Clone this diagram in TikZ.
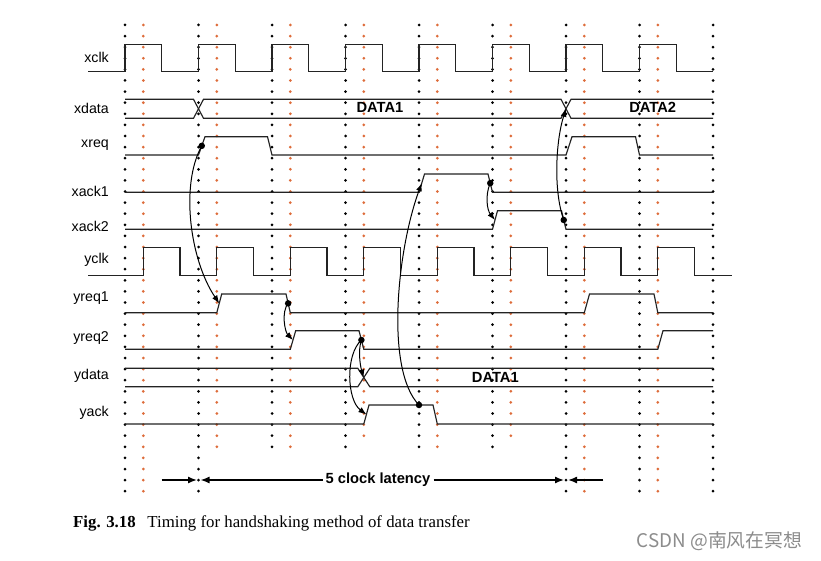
\documentclass[tikz,border=0pt]{standalone}
\usepackage{fontspec}
\setmainfont{Liberation Serif}
\setsansfont{Liberation Sans}
\newfontfamily\cjkfont{Noto Sans CJK SC}
\usetikzlibrary{arrows.meta,calc}
\definecolor{dotorange}{RGB}{222,108,58}
\definecolor{wavec}{RGB}{35,35,35}
\begin{document}
\begin{tikzpicture}[x=1pt,y=-1pt,
  wave/.style={draw=wavec, line width=1.15pt, line join=miter},
  sig/.style={font=\sffamily\fontsize{14.2}{16}\selectfont, anchor=east, inner sep=0pt},
  datalbl/.style={font=\sffamily\bfseries\fontsize{14.7}{16}\selectfont, inner sep=0pt},
  cause/.style={fill=black, circle, inner sep=0pt, minimum size=6.5pt},
  causal/.style={draw=black, line width=1pt, -{Latex[length=8pt,width=6pt]}},
  latarrow/.style={draw=black, line width=1.4pt, -{Latex[length=9pt,width=7pt]}},
  ]
\fill[white] (0,0) rectangle (821,561);
\useasboundingbox (0,0) rectangle (821,561);

% dotted grid columns
\foreach \x/\n in {125/42,198.5/42,272/38,345.5/38,419/38,492.5/38,566/42,639.5/42,713/42}
  \foreach \i in {0,...,\n}
    \fill[black] (\x,{25+11.1*\i}) circle (1.5pt);
\foreach \x/\n in {143.3/42,216.8/38,290.3/38,363.8/37,437.3/38,510.8/37,584.3/42,657.8/42}
  \foreach \i in {0,...,\n}
    \fill[dotorange] (\x,{25+11.1*\i}) circle (1.5pt);

% signal names
\node[sig] (lxclk)  at (109,57)    {xclk};
\node[sig] (lxdata) at (109,108)   {xdata};
\node[sig] (lxreq)  at (109,145.5) {xreq};
\node[sig] (lxack1) at (109,191)   {xack1};
\node[sig] (lxack2) at (109,226.5) {xack2};
\node[sig] (lyclk)  at (109,259.5) {yclk};
\node[sig] (lyreq1) at (109,298.5) {yreq1};
\node[sig] (lyreq2) at (109,338)   {yreq2};
\node[sig] (lydata) at (109,376)   {ydata};
\node[sig] (lyack)  at (109,412.5) {yack};

% xclk
\draw[wave] (88,71.7) \foreach \k in {0,...,7} {
  -- ({125+73.5*\k},71.7) -- ({125+73.5*\k},44.3)
  -- ({161.75+73.5*\k},44.3) -- ({161.75+73.5*\k},71.7) } -- (713,71.7);
% xdata
\draw[wave] (125,99.3) -- (193.5,99.3) -- (203.5,118.3) -- (561,118.3) -- (571,99.3) -- (713,99.3);
\draw[wave] (125,118.3) -- (193.5,118.3) -- (203.5,99.3) -- (561,99.3) -- (571,118.3) -- (713,118.3);
\node[datalbl] (xd1) at (380,107.5) {DATA1};
\node[datalbl] (xd2) at (652.7,107.5) {DATA2};
% xreq
\draw[wave] (125,155) -- (198.5,155) -- (205,136.7) -- (267.5,136.7) -- (272,155)
  -- (566,155) -- (572,136.7) -- (635.5,136.7) -- (639.5,155) -- (713,155);
% xack1
\draw[wave] (125,192.3) -- (419,192.3) -- (424.5,174) -- (488,174) -- (492.5,192.3) -- (713,192.3);
% xack2
\draw[wave] (125,229.3) -- (492.5,229.3) -- (497.5,210.7) -- (561.5,210.7) -- (566,229.3) -- (713,229.3);
% yclk
\draw[wave] (88,275.7) \foreach \k in {0,...,7} {
  -- ({143.3+73.5*\k},275.7) -- ({143.3+73.5*\k},247.7)
  -- ({180.05+73.5*\k},247.7) -- ({180.05+73.5*\k},275.7) } -- (732,275.7);
% yreq1
\draw[wave] (125,312.7) -- (216.8,312.7) -- (221.7,294) -- (286,294) -- (290.3,312.7)
  -- (584.3,312.7) -- (589.5,294) -- (654,294) -- (657.8,312.7) -- (713,312.7);
% yreq2
\draw[wave] (125,349.3) -- (290.3,349.3) -- (295.7,330.7) -- (359,330.7) -- (363.8,349.3)
  -- (657.8,349.3) -- (663,330.7) -- (713,330.7);
% ydata
\draw[wave] (125,368.3) -- (357.8,368.3) -- (369.8,386.7) -- (713,386.7);
\draw[wave] (125,386.7) -- (357.8,386.7) -- (369.8,368.3) -- (713,368.3);
\node[datalbl] (yd1) at (495.3,377.5) {DATA1};
% yack
\draw[wave] (125,424) -- (363.8,424) -- (369,405) -- (433,405) -- (437.3,424) -- (713,424);

% cause dots and effect points
\node[cause] (c1) at (201.75,145.85) {};
\coordinate (e1) at (219.25,303.35);
\node[cause] (c2) at (288.15,303.35) {};
\coordinate (e2) at (293,340);
\node[cause] (c3) at (361.4,340) {};
\coordinate (e3a) at (363.8,377.5);
\coordinate (e3b) at (366.4,414.5);
\node[cause] (c4) at (419,405) {};
\coordinate (e4) at (421.75,183.15);
\node[cause] (c5) at (490.25,183.15) {};
\coordinate (e5) at (495,220);
\node[cause] (c6) at (563.75,220) {};
\coordinate (e6) at (566,108.8);

\draw[causal] (c1.center) .. controls (180,185) and (190,260) .. (e1);
\draw[causal] (c2.center) .. controls (281,312) and (285,332) .. (e2);
\draw[causal] (c3.center) .. controls (358,350) and (360,365) .. (e3a);
\draw[causal] (c3.center) .. controls (345,355) and (347,400) .. (e3b);
\draw[causal] (c4.center) .. controls (385,370) and (397,250) .. (e4);
\draw[causal] (c5.center) .. controls (485,195) and (487,210) .. (e5);
\draw[causal] (c6.center) .. controls (553,190) and (556,140) .. (e6);

% latency
\node[datalbl, inner xsep=3pt] (lat) at (378,480) {5 clock latency};
\coordinate (la0) at (161.7,480);
\coordinate (la1) at (197,480);
\coordinate (la2) at (200.5,480);
\coordinate (la3) at (564,480);
\coordinate (la4) at (568,480);
\coordinate (la5) at (603.3,480);
\draw[latarrow] (la0) -- (la1);
\draw[latarrow] (lat.west) -- (la2);
\draw[latarrow] (lat.east) -- (la3);
\draw[latarrow] (la5) -- (la4);

% caption
\node[anchor=west, inner sep=0pt, font=\fontsize{16.8}{18}\selectfont] (cap) at (73,523.5)
  {\textbf{Fig. 3.18}\hspace{0.7em}Timing for handshaking method of data transfer};
% watermark
\node[inner sep=0pt, text=black!45, font=\cjkfont\fontsize{18.8}{20}\selectfont] (wm) at (719.5,541)
  {CSDN @南风在冥想};
\end{tikzpicture}
\end{document}
